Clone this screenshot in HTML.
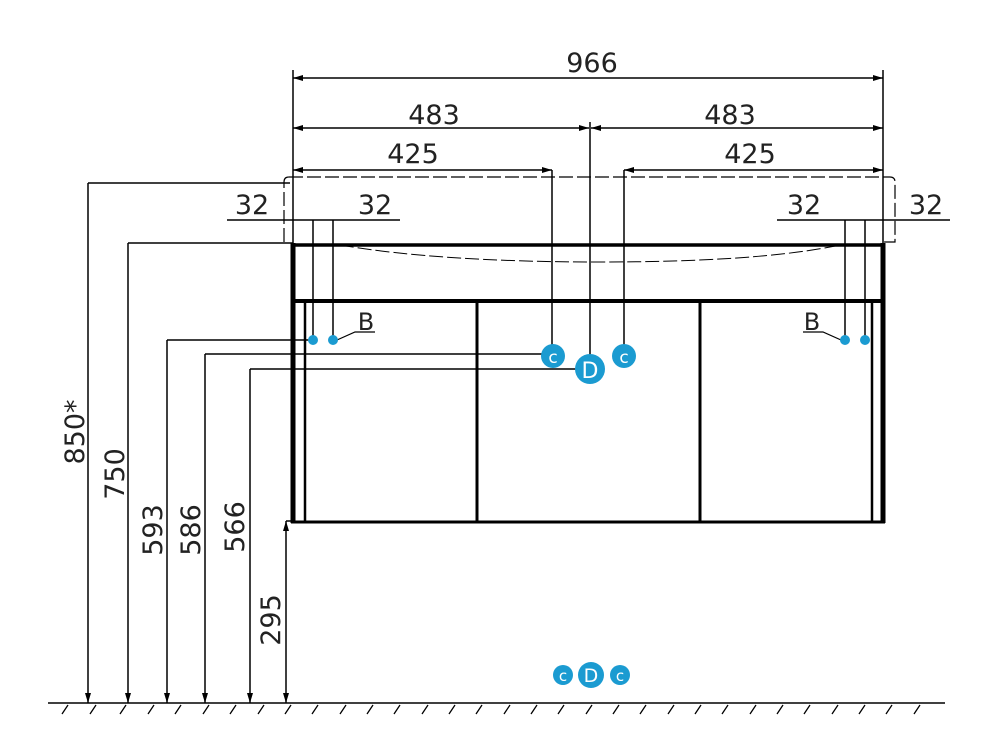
<!DOCTYPE html>
<html><head><meta charset="utf-8"><style>
html,body{margin:0;padding:0;background:#fff;}
svg{display:block;}
text{font-family:"DejaVu Sans","Liberation Sans",sans-serif;fill:#222;font-size:27px;font-weight:normal;}
</style></head><body>
<svg width="1000" height="750" viewBox="0 0 1000 750" xmlns="http://www.w3.org/2000/svg">
<defs>
<marker id="a" viewBox="0 0 10 6" refX="10" refY="3" markerWidth="10" markerHeight="6" orient="auto-start-reverse" markerUnits="userSpaceOnUse"><path d="M0,0L10,3L0,6z" fill="#000"/></marker>
</defs>
<g stroke="#000" stroke-width="1.5" fill="none">
<!-- top dims -->
<line x1="293" y1="70" x2="293" y2="245"/>
<line x1="883" y1="70" x2="883" y2="245"/>
<line x1="293" y1="78" x2="883" y2="78" marker-start="url(#a)" marker-end="url(#a)"/>
<line x1="293" y1="128" x2="589" y2="128" marker-start="url(#a)" marker-end="url(#a)"/>
<line x1="591" y1="128" x2="883" y2="128" marker-start="url(#a)" marker-end="url(#a)"/>
<line x1="590" y1="122" x2="590" y2="360"/>
<line x1="293" y1="170" x2="552" y2="170" marker-start="url(#a)" marker-end="url(#a)"/>
<line x1="624" y1="170" x2="883" y2="170" marker-start="url(#a)" marker-end="url(#a)"/>
<line x1="552" y1="170" x2="552" y2="350"/>
<line x1="624" y1="170" x2="624" y2="350"/>
<!-- 32 dims -->
<line x1="227" y1="220" x2="400" y2="220"/>
<line x1="313" y1="220" x2="313" y2="340"/>
<line x1="333" y1="220" x2="333" y2="340"/>
<line x1="777" y1="220" x2="950" y2="220"/>
<line x1="845" y1="220" x2="845" y2="340"/>
<line x1="865" y1="220" x2="865" y2="340"/>
<!-- countertop dashed -->
<path d="M289,177 H890 Q895,177 895,182 V242 H880 M284,242 V182 Q284,177 289,177" stroke-dasharray="14,4" stroke-width="1.2"/>
<path d="M340,245 Q440,262 600,262 Q760,262 840,245" stroke-dasharray="14,4" stroke-width="1"/>
<!-- left extension lines -->
<line x1="88" y1="183" x2="290" y2="183"/>
<line x1="128" y1="243" x2="293" y2="243"/>
<line x1="167" y1="340" x2="310" y2="340"/>
<line x1="205" y1="354" x2="545" y2="354"/>
<line x1="250" y1="369" x2="576" y2="369"/>
<line x1="286" y1="521" x2="293" y2="521"/>
<!-- vertical dims -->
<line x1="88" y1="183" x2="88" y2="703" marker-end="url(#a)"/>
<line x1="128" y1="243" x2="128" y2="703" marker-end="url(#a)"/>
<line x1="167" y1="340" x2="167" y2="703" marker-end="url(#a)"/>
<line x1="205" y1="354" x2="205" y2="703" marker-end="url(#a)"/>
<line x1="250" y1="369" x2="250" y2="703" marker-end="url(#a)"/>
<line x1="286" y1="521" x2="286" y2="703" marker-start="url(#a)" marker-end="url(#a)"/>
<!-- ground -->
<line x1="48" y1="703" x2="945" y2="703"/>
</g>
<g stroke="#000" stroke-width="1.3">
<path d="M62,714l6,-9M90,714l6,-9M120,714l6,-9M148,714l6,-9M175,714l6,-9M203,714l6,-9M230,714l6,-9M258,714l6,-9M285,714l6,-9M312,714l6,-9M340,714l6,-9M367,714l6,-9M394,714l6,-9M422,714l6,-9M449,714l6,-9M476,714l6,-9M504,714l6,-9M531,714l6,-9M558,714l6,-9M586,714l6,-9M613,714l6,-9M640,714l6,-9M668,714l6,-9M695,714l6,-9M722,714l6,-9M750,714l6,-9M777,714l6,-9M804,714l6,-9M832,714l6,-9M859,714l6,-9M886,714l6,-9M914,714l6,-9"/>
</g>
<!-- cabinet -->
<g stroke="#000" fill="none">
<line x1="293" y1="243" x2="293" y2="523" stroke-width="5"/>
<line x1="883" y1="243" x2="883" y2="523" stroke-width="5"/>
<line x1="291" y1="245" x2="885" y2="245" stroke-width="3.5"/>
<line x1="291" y1="301" x2="885" y2="301" stroke-width="4"/>
<line x1="291" y1="522" x2="885" y2="522" stroke-width="3"/>
<line x1="305" y1="301" x2="305" y2="522" stroke-width="2.5"/>
<line x1="477" y1="301" x2="477" y2="522" stroke-width="3"/>
<line x1="700" y1="301" x2="700" y2="522" stroke-width="3"/>
<line x1="872" y1="301" x2="872" y2="522" stroke-width="2.5"/>
<!-- B leaders -->
<path d="M337,340 L355,332 H375" stroke-width="1.2"/>
<path d="M841,340 L823,332 H803" stroke-width="1.2"/>
</g>
<g fill="#1b9bd1">
<circle cx="313" cy="340" r="5"/><circle cx="333" cy="340" r="5"/>
<circle cx="845" cy="340" r="5"/><circle cx="865" cy="340" r="5"/>
<circle cx="553" cy="356" r="12"/><circle cx="624" cy="356" r="12"/>
<circle cx="590" cy="369" r="15"/>
<circle cx="563" cy="675" r="10"/><circle cx="620" cy="675" r="10"/>
<circle cx="591" cy="675" r="13"/>
</g>
<g fill="#fff" font-family="Liberation Sans,sans-serif" text-anchor="middle">
<text x="553" y="363" style="fill:#fff;font-size:17px">c</text>
<text x="624" y="363" style="fill:#fff;font-size:17px">c</text>
<text x="590" y="378" style="fill:#fff;font-size:22px">D</text>
<text x="563" y="681" style="fill:#fff;font-size:15px">c</text>
<text x="620" y="681" style="fill:#fff;font-size:15px">c</text>
<text x="591" y="682" style="fill:#fff;font-size:19px">D</text>
</g>
<g text-anchor="middle">
<text x="592" y="72">966</text>
<text x="434" y="124">483</text>
<text x="730" y="124">483</text>
<text x="413" y="163">425</text>
<text x="750" y="163">425</text>
<text x="252" y="214">32</text>
<text x="375" y="214">32</text>
<text x="804" y="214">32</text>
<text x="926" y="214">32</text>
<text x="366" y="330" style="font-size:24px">B</text>
<text x="812" y="330" style="font-size:24px">B</text>
<text transform="translate(84,432) rotate(-90)">850*</text>
<text transform="translate(124,474) rotate(-90)">750</text>
<text transform="translate(162,530) rotate(-90)">593</text>
<text transform="translate(200,530) rotate(-90)">586</text>
<text transform="translate(244,527) rotate(-90)">566</text>
<text transform="translate(280,620) rotate(-90)">295</text>
</g>
</svg>
</body></html>
